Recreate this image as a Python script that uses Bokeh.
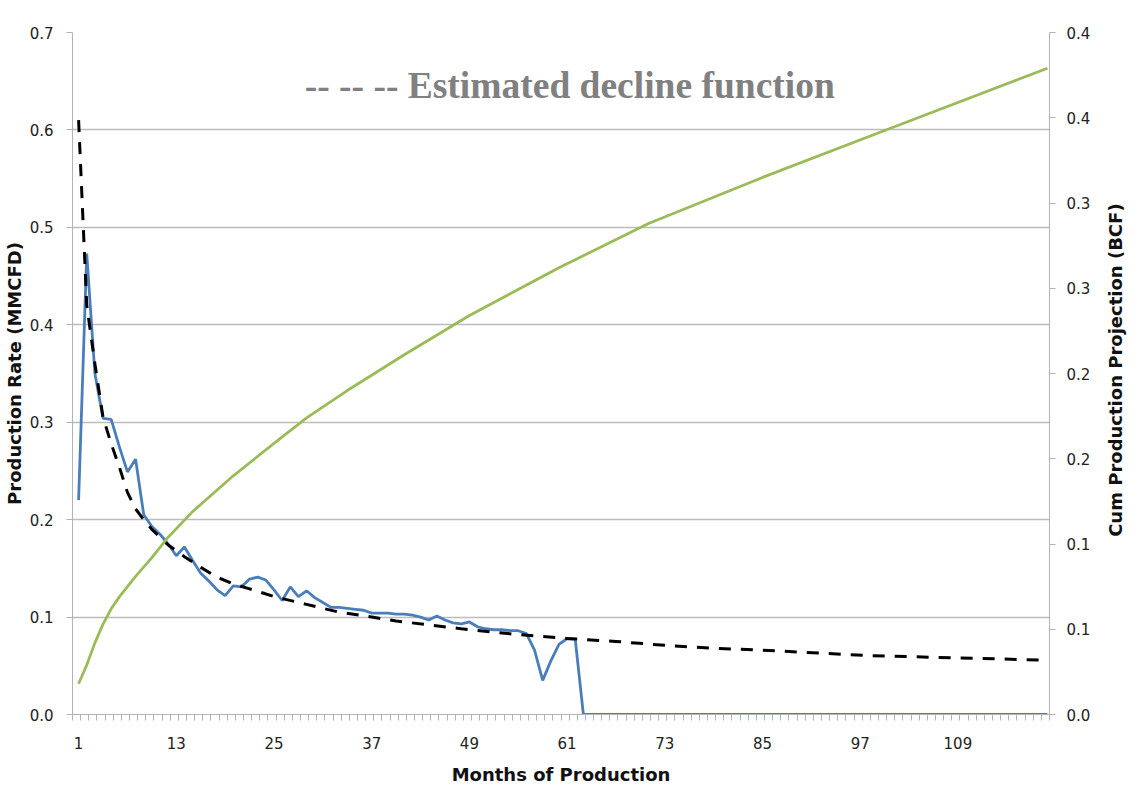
import math
from bokeh.plotting import figure
from bokeh.layouts import row
from bokeh.models import Range1d, LinearAxis, FixedTicker, Label, PrintfTickFormatter
from bokeh.embed import file_html
from bokeh.resources import INLINE

# ---------------- data ----------------
months = list(range(1, 121))
rate = [0.220, 0.473, 0.350, 0.304, 0.303, 0.275, 0.249, 0.262, 0.205, 0.193,
        0.185, 0.175, 0.163, 0.172, 0.158, 0.145, 0.137, 0.128, 0.122, 0.132,
        0.131, 0.139, 0.141, 0.138, 0.128, 0.117, 0.131, 0.121, 0.127, 0.120,
        0.115, 0.110, 0.110, 0.109, 0.108, 0.107, 0.104, 0.104, 0.104, 0.103,
        0.103, 0.102, 0.100, 0.097, 0.101, 0.097, 0.094, 0.093, 0.095, 0.090,
        0.088, 0.087, 0.087, 0.086, 0.086, 0.083, 0.066, 0.035, 0.055, 0.072,
        0.078, 0.077] + [0.0] * 58

decline_months = [1, 2, 3, 4, 5, 6, 7, 8, 9, 10, 12, 14, 16, 18, 20, 22, 25, 29,
                  33, 37, 40, 48, 55, 61, 67, 73, 79, 85, 98, 109, 119]
decline = [0.610, 0.420, 0.360, 0.305, 0.278, 0.254, 0.228, 0.211, 0.200, 0.190,
           0.174, 0.162, 0.151, 0.141, 0.134, 0.129, 0.121, 0.113, 0.105, 0.100,
           0.096, 0.088, 0.082, 0.078, 0.075, 0.071, 0.068, 0.066, 0.0605, 0.058,
           0.056]

cum_months = [1, 2, 3, 4, 5, 6, 7, 8, 10, 12, 15, 20, 25, 29, 34, 41, 49, 60,
              71, 85, 100, 120]
cum = [0.018, 0.029, 0.042, 0.053, 0.062, 0.069, 0.075, 0.081, 0.092, 0.104,
       0.119, 0.140, 0.159, 0.174, 0.190, 0.211, 0.234, 0.262, 0.288, 0.315,
       0.3425, 0.379]

x_tick_months = [1, 13, 25, 37, 49, 61, 73, 85, 97, 109]
rate_ticks = [0.0, 0.1, 0.2, 0.3, 0.4, 0.5, 0.6, 0.7]
cum_ticks = [0.0, 0.05, 0.1, 0.15, 0.2, 0.25, 0.3, 0.35, 0.4]
cum_tick_labels = ["0.0", "0.1", "0.1", "0.2", "0.2", "0.3", "0.3", "0.4", "0.4"]

title_text = "-- -- -- Estimated decline function"
right_title = "Cum Production Projection (BCF)"

# ---------------- main figure ----------------
p = figure(width=1100, height=808, output_backend="svg", toolbar_location=None,
           x_range=Range1d(0.25, 120.25), y_range=Range1d(0, 0.7),
           min_border_left=72, min_border_right=51, min_border_top=32,
           min_border_bottom=94)
p.outline_line_color = None
p.background_fill_color = "white"
p.border_fill_color = "white"
p.extra_y_ranges = {"cum": Range1d(0, 0.40)}

AXIS_COL = "#b3b3b3"
TICK_FONT = "DejaVu Sans"

p.xgrid.visible = False
p.ygrid.grid_line_color = "#bcbcbc"
p.ygrid.grid_line_width = 1.5

# bottom axis
xa = p.xaxis[0]
xa.ticker = FixedTicker(ticks=x_tick_months,
                        minor_ticks=[0.25 + k for k in range(121)])
xa.axis_line_color = AXIS_COL
xa.major_tick_out = 0
xa.major_tick_in = 0
xa.minor_tick_out = 6
xa.minor_tick_in = 0
xa.minor_tick_line_color = AXIS_COL
xa.major_label_standoff = 16
xa.major_label_text_font = TICK_FONT
xa.major_label_text_font_size = "15px"
xa.major_label_text_color = "#222222"
xa.axis_label = "Months of Production"
xa.axis_label_text_font = TICK_FONT
xa.axis_label_text_font_style = "bold"
xa.axis_label_text_font_size = "18px"
xa.axis_label_text_color = "#111111"
xa.axis_label_standoff = 12

# left axis
ya = p.yaxis[0]
ya.ticker = FixedTicker(ticks=rate_ticks)
ya.formatter = PrintfTickFormatter(format="%.1f")
ya.axis_line_color = AXIS_COL
ya.major_tick_line_color = AXIS_COL
ya.major_tick_out = 6
ya.major_tick_in = 0
ya.minor_tick_out = 0
ya.minor_tick_in = 0
ya.major_label_standoff = 13
ya.major_label_text_font = TICK_FONT
ya.major_label_text_font_size = "15px"
ya.major_label_text_color = "#222222"
ya.axis_label = "Production Rate (MMCFD)"
ya.axis_label_text_font = TICK_FONT
ya.axis_label_text_font_style = "bold"
ya.axis_label_text_font_size = "18px"
ya.axis_label_text_color = "#111111"
ya.axis_label_standoff = 2

# right axis: ticks and labels
ra = LinearAxis(y_range_name="cum", ticker=FixedTicker(ticks=cum_ticks),
                major_label_overrides=dict(zip(cum_ticks, cum_tick_labels)))
ra.axis_line_color = AXIS_COL
ra.major_tick_line_color = AXIS_COL
ra.major_tick_out = 6
ra.major_tick_in = 0
ra.minor_tick_out = 0
ra.minor_tick_in = 0
ra.major_label_standoff = 11
ra.major_label_text_font = TICK_FONT
ra.major_label_text_font_size = "15px"
ra.major_label_text_color = "#222222"
p.add_layout(ra, "right")

# ---------------- series ----------------
p.line(months, rate, line_color="#4a7ebb", line_width=2.8)
p.line(decline_months, decline, line_color="black", line_width=3,
       line_dash="12 10")
p.line(cum_months, cum, line_color="#9bbb59", line_width=2.8,
       y_range_name="cum")

p.add_layout(Label(x=28.77, y=0.6456, text=title_text,
                   text_font="Liberation Serif", text_font_style="bold",
                   text_font_size="37.5px", text_color="#808080",
                   text_baseline="middle", text_align="left"))

# ---------------- strip carrying the right-hand axis title ----------------
side = figure(width=47, height=808, output_backend="svg", toolbar_location=None,
              x_range=Range1d(0, 47), y_range=Range1d(0, 808),
              x_axis_location=None, y_axis_location=None,
              min_border=0, min_border_left=0, min_border_right=0,
              min_border_top=0, min_border_bottom=0)
side.outline_line_color = None
side.grid.visible = False
side.background_fill_color = "white"
side.border_fill_color = "white"
side.add_layout(Label(x=15, y=408, text=right_title, angle=math.pi / 2,
                      text_font=TICK_FONT, text_font_style="bold",
                      text_font_size="18px", text_color="#111111",
                      text_align="center", text_baseline="middle"))

layout = row(p, side, spacing=0)
open("out.html", "w").write(file_html(layout, INLINE))
